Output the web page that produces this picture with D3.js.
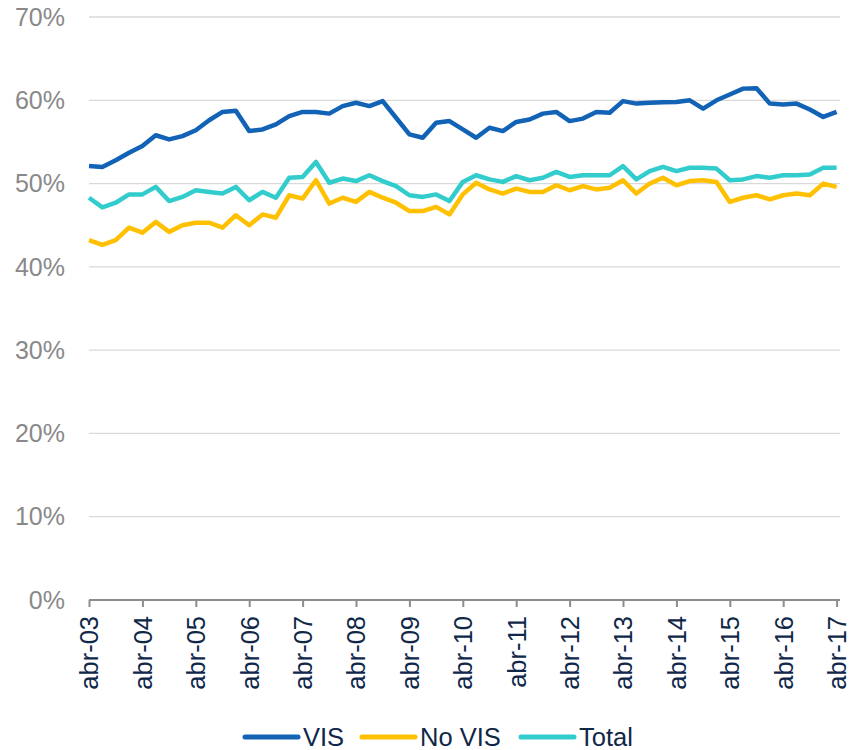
<!DOCTYPE html>
<html>
<head>
<meta charset="utf-8">
<script src="https://cdn.jsdelivr.net/npm/d3@7"></script>
<style>
  body { margin: 0; background: #fff; }
  svg { display: block; font-family: "Liberation Sans", Arial, sans-serif; }
</style>
</head>
<body>
<svg id="chart" width="852" height="750"></svg>
<script>
// Quarterly series, abr-03 .. abr-17 (57 points)
var yearLabels = ["abr-03", "abr-04", "abr-05", "abr-06", "abr-07", "abr-08", "abr-09",
    "abr-10", "abr-11", "abr-12", "abr-13", "abr-14", "abr-15", "abr-16", "abr-17"];

var vis = [52.1, 52.0, 52.8, 53.7, 54.5, 55.8, 55.3, 55.7, 56.4, 57.6,
    58.6, 58.75, 56.3, 56.5, 57.1, 58.1, 58.6, 58.6, 58.4, 59.3,
    59.7, 59.3, 59.9, 57.9, 55.9, 55.5, 57.3, 57.5, 56.5, 55.5,
    56.7, 56.3, 57.4, 57.7, 58.4, 58.6, 57.5, 57.8, 58.6, 58.5,
    59.9, 59.6, 59.7, 59.75, 59.8, 60.0, 59.0, 60.0, 60.7, 61.4,
    61.45, 59.6, 59.5, 59.6, 58.9, 58.0, 58.6];

var noVis = [43.2, 42.65, 43.2, 44.7, 44.1, 45.4, 44.2, 45.0, 45.3, 45.3,
    44.7, 46.2, 45.0, 46.3, 45.9, 48.6, 48.2, 50.4, 47.6, 48.3,
    47.8, 49.0, 48.3, 47.7, 46.7, 46.7, 47.2, 46.3, 48.7, 50.1,
    49.3, 48.8, 49.4, 49.0, 49.0, 49.8, 49.2, 49.7, 49.3, 49.5,
    50.4, 48.8, 50.0, 50.7, 49.8, 50.3, 50.4, 50.2, 47.8, 48.3,
    48.6, 48.1, 48.6, 48.8, 48.6, 50.0, 49.6];

var total = [48.3, 47.15, 47.7, 48.7, 48.7, 49.6, 47.9, 48.4, 49.2, 49.0,
    48.8, 49.6, 48.0, 49.0, 48.3, 50.7, 50.8, 52.6, 50.1, 50.6,
    50.3, 51.0, 50.3, 49.7, 48.6, 48.4, 48.7, 47.9, 50.2, 51.0,
    50.5, 50.2, 50.9, 50.4, 50.7, 51.4, 50.8, 51.0, 51.0, 51.0,
    52.1, 50.5, 51.5, 52.0, 51.5, 51.9, 51.9, 51.8, 50.4, 50.5,
    50.9, 50.7, 51.0, 51.0, 51.1, 51.9, 51.9];

var yTicks = [0, 10, 20, 30, 40, 50, 60, 70];

var series = [
    { name: "VIS", values: vis, color: "#1262b6" },
    { name: "No VIS", values: noVis, color: "#ffc000" },
    { name: "Total", values: total, color: "#33cccc" }
];

var svg = d3.select("#chart");

var x = d3.scaleLinear().domain([0, vis.length - 1]).range([89, 836.6]);
var y = d3.scaleLinear().domain([0, 70]).range([600, 17]);

// Gridlines
svg.append("g")
    .selectAll("line")
    .data(yTicks.filter(function (d) { return d > 0; }))
    .enter().append("line")
    .attr("x1", 89)
    .attr("x2", 840)
    .attr("y1", function (d) { return y(d); })
    .attr("y2", function (d) { return y(d); })
    .attr("stroke", "#d9d9d9")
    .attr("stroke-width", 1.3);

// Y labels
svg.append("g")
    .selectAll("text")
    .data(yTicks)
    .enter().append("text")
    .attr("x", 65)
    .attr("y", function (d) { return y(d); })
    .attr("dy", "0.35em")
    .attr("text-anchor", "end")
    .attr("fill", "#898989")
    .attr("font-size", "25px")
    .text(function (d) { return d + "%"; });

// X axis
var xAxis = d3.axisBottom(x)
    .tickValues(yearLabels.map(function (d, i) { return i * 4; }))
    .tickFormat(function (d) { return yearLabels[d / 4]; })
    .tickSize(7)
    .tickSizeOuter(0);

var gx = svg.append("g")
    .attr("transform", "translate(0," + y(0) + ")")
    .call(xAxis);

gx.select(".domain")
    .attr("d", "M89,0H840")
    .attr("stroke", "#8c8c8c")
    .attr("stroke-width", 2);
gx.selectAll(".tick line")
    .attr("stroke", "#8c8c8c")
    .attr("stroke-width", 2);
gx.selectAll(".tick text")
    .attr("transform", "rotate(-90)")
    .attr("x", -16)
    .attr("y", 0)
    .attr("dy", "0.35em")
    .attr("text-anchor", "end")
    .attr("fill", "#0f2748")
    .attr("font-size", "25.5px")
    .attr("font-family", "Liberation Sans, Arial, sans-serif");

// Lines
var line = d3.line()
    .x(function (d, i) { return x(i); })
    .y(function (d) { return y(d); });

svg.append("g")
    .selectAll("path")
    .data(series)
    .enter().append("path")
    .attr("d", function (s) { return line(s.values); })
    .attr("fill", "none")
    .attr("stroke", function (s) { return s.color; })
    .attr("stroke-width", 4.5)
    .attr("stroke-linejoin", "round");

// Legend
var legendX = [245, 362, 521];
var legend = svg.append("g")
    .selectAll("g")
    .data(series)
    .enter().append("g")
    .attr("transform", function (s, i) { return "translate(" + legendX[i] + ",737)"; });

legend.append("line")
    .attr("x1", 0)
    .attr("x2", 53)
    .attr("stroke", function (s) { return s.color; })
    .attr("stroke-width", 5)
    .attr("stroke-linecap", "round");

legend.append("text")
    .attr("x", 58)
    .attr("y", 0)
    .attr("dy", "0.35em")
    .attr("fill", "#0f2748")
    .attr("font-size", "25.5px")
    .text(function (s) { return s.name; });
</script>
</body>
</html>
